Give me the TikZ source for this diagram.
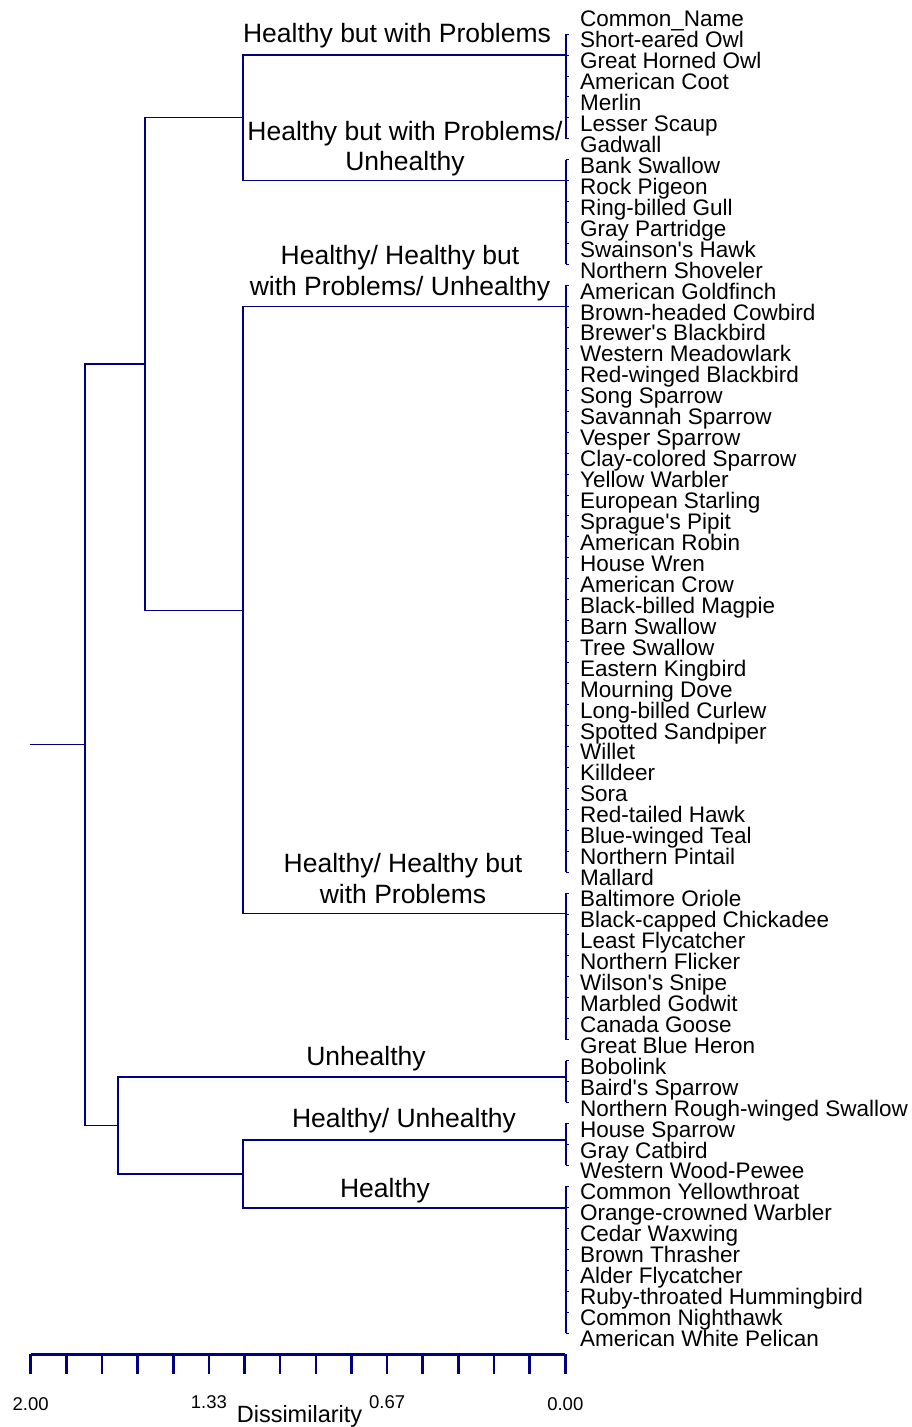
\documentclass[tikz,border=0pt]{standalone}
\usepackage{fontspec}
\setmainfont{Liberation Sans}
\usepackage{xcolor}
\usepackage{tikz}
\usetikzlibrary{calc}

\definecolor{dendroblue}{RGB}{0,0,128}

\begin{document}
\begin{tikzpicture}[x=1pt, y=-1pt,
    link/.style={draw=dendroblue, line width=1.1pt},
    leaftick/.style={draw=dendroblue, line width=0.8pt},
    axisline/.style={draw=dendroblue, line width=3pt},
    axistick/.style={draw=dendroblue, line width=2.5pt},
    leaf/.style={anchor=base west, inner sep=0pt, font=\fontsize{22.5}{22.5}\selectfont},
    group/.style={anchor=base, inner sep=0pt, align=center, font=\fontsize{26.5}{30.7}\selectfont},
    ticklabel/.style={anchor=base, inner sep=0pt, font=\fontsize{18.5}{18.5}\selectfont}]
    \useasboundingbox (0,0) rectangle (911,1427);

    % --- Bird names down the right side ---
    \foreach \bird [count=\i] in {Common\_Name, Short-eared Owl, Great Horned Owl,
        American Coot, Merlin, Lesser Scaup, Gadwall, Bank Swallow, Rock Pigeon,
        Ring-billed Gull, Gray Partridge, Swainson\textquotesingle s Hawk, Northern Shoveler,
        American Goldfinch, Brown-headed Cowbird, Brewer\textquotesingle s Blackbird,
        Western Meadowlark, Red-winged Blackbird, Song Sparrow, Savannah Sparrow,
        Vesper Sparrow, Clay-colored Sparrow, Yellow Warbler, European Starling,
        Sprague\textquotesingle s Pipit, American Robin, House Wren, American Crow,
        Black-billed Magpie, Barn Swallow, Tree Swallow, Eastern Kingbird, Mourning Dove,
        Long-billed Curlew, Spotted Sandpiper, Willet, Killdeer, Sora, Red-tailed Hawk,
        Blue-winged Teal, Northern Pintail, Mallard, Baltimore Oriole,
        Black-capped Chickadee, Least Flycatcher, Northern Flicker,
        Wilson\textquotesingle s Snipe, Marbled Godwit, Canada Goose, Great Blue Heron,
        Bobolink, Baird\textquotesingle s Sparrow, Northern Rough-winged Swallow,
        House Sparrow, Gray Catbird, Western Wood-Pewee, Common Yellowthroat,
        Orange-crowned Warbler, Cedar Waxwing, Brown Thrasher, Alder Flycatcher,
        Ruby-throated Hummingbird, Common Nighthawk, American White Pelican}
        \node[leaf] (bird\i) at (580, 26.7+20.95*\i-20.95) {\bird};

    % --- Leaf ticks at zero dissimilarity ---
    \foreach \j in {1,...,63} {
        \coordinate (t\j) at (566, 34+20.95*\j-20.95);
        \draw[leaftick] (t\j) -- ++(3,0);
    }

    % --- Vertical runs of each cluster ---
    \draw[link] (t1) -- (t6);
    \draw[link] (t7) -- (t12);
    \draw[link] (t13) -- (t41);
    \draw[link] (t42) -- (t49);
    \draw[link] (t50) -- (t52);
    \draw[link] (t53) -- (t55);
    \draw[link] (t56) -- (t63);

    % --- Cluster joins and tree nodes ---
    \coordinate (hp) at (t2);
    \coordinate (hpu) at (t8);
    \coordinate (hhpu) at (t14);
    \coordinate (hhp) at (t43);
    \coordinate (uh) at (566,1077);
    \coordinate (hu) at (566,1140);
    \coordinate (h) at (566,1208);

    \coordinate (nA) at (243,117.8);
    \coordinate (nB) at (243,610.1);
    \coordinate (nC) at (243,1174);
    \coordinate (up) at (145,364);
    \coordinate (lo) at (118,1125.5);
    \coordinate (root) at (85,744.7);
    \coordinate (stub) at (30,744.7);

    % --- Dendrogram links ---
    \draw[link] (hp) -| (nA) |- (hpu);
    \draw[link] (hhpu) -| (nB) |- (hhp);
    \draw[link] (hu) -| (nC) |- (h);
    \draw[link] (nA) -| (up) |- (nB);
    \draw[link] (uh) -| (lo) |- (nC);
    \draw[link] (up) -| (root) |- (lo);
    \draw[link] (root) -- (stub);

    % --- Cluster labels (base = last line) ---
    \node[group] (lblhp) at (397,42.7) {Healthy but with Problems};
    \node[group] (lblhpu) at (405,170.7) {Healthy but with Problems/\\Unhealthy};
    \node[group] (lblhhpu) at (400,295) {Healthy/ Healthy but\\with Problems/ Unhealthy};
    \node[group] (lblhhp) at (403,903) {Healthy/ Healthy but\\with Problems};
    \node[group] (lbluh) at (366,1065) {Unhealthy};
    \node[group] (lblhu) at (404,1127) {Healthy/ Unhealthy};
    \node[group] (lblh) at (385,1197) {Healthy};

    % --- Dissimilarity axis ---
    \coordinate (axL) at (30.7,1354);
    \coordinate (axR) at (565.3,1354);
    \draw[axisline] (axL) -- (axR);
    \foreach \k in {0,...,15}
        \draw[axistick] ($(axL)!\k/15!(axR)$) -- ++(0,20);
    \node[ticklabel] (v200) at (30.7,1410) {2.00};
    \node[ticklabel] (v133) at (208.9,1408.5) {1.33};
    \node[ticklabel] (v067) at (387.1,1408.5) {0.67};
    \node[ticklabel] (v000) at (565.3,1410) {0.00};
    \node[anchor=base, inner sep=0pt, font=\fontsize{23.5}{23.5}\selectfont] (dissim) at (299.5,1422.7) {Dissimilarity};
\end{tikzpicture}
\end{document}
